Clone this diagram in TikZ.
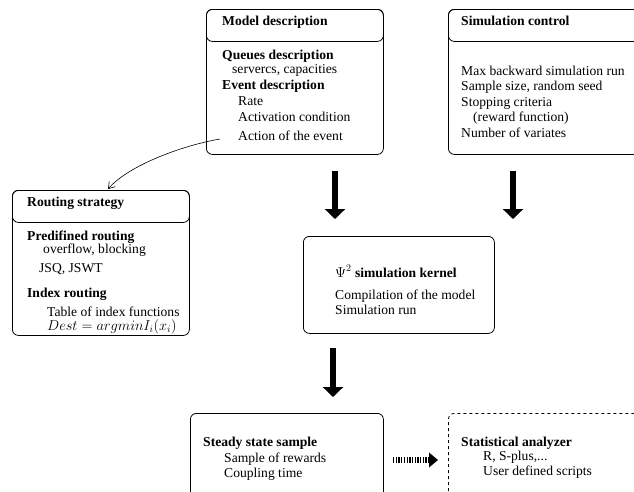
\documentclass[tikz,border=0pt]{standalone}
\usepackage{fontspec}
\setmainfont{Liberation Serif}
\usetikzlibrary{arrows.meta}
\begin{document}
\begin{tikzpicture}[x=1pt,y=-1pt,
  box/.style={draw, line width=0.8pt, rounded corners=6pt, inner sep=0pt, anchor=north west},
  txt/.style={anchor=base west, inner sep=0pt, font=\fontsize{13.6}{16}\selectfont},
  btxt/.style={anchor=base west, inner sep=0pt, font=\fontsize{13.6}{16}\selectfont\bfseries},
  bigarrow/.style={line width=6pt, -{Triangle[length=10pt,width=20pt]}},
  ]
\useasboundingbox (0,0) rectangle (634,491);
\clip (0,0) rectangle (634,491);

% Model description
\node[box, minimum width=177pt, minimum height=145pt] (model) at (206,9) {};
\node[box, minimum width=177pt, minimum height=32pt] (modelhead) at (206,9) {};
\node[btxt] (t1) at (222,25) {Model description};
\node[btxt] (t2) at (222,59) {Queues description};
\node[txt]  (t3) at (232,73) {servercs, capacities};
\node[btxt] (t4) at (222,89) {Event description};
\node[txt]  (t5) at (238,105) {Rate};
\node[txt]  (t6) at (238,121) {Activation condition};
\node[txt]  (t7) at (238,140) {Action of the event};

% Simulation control
\node[box, minimum width=210pt, minimum height=145pt] (sim) at (448,9) {};
\node[box, minimum width=210pt, minimum height=32pt] (simhead) at (448,9) {};
\node[btxt] (s1) at (461,25) {Simulation control};
\node[txt]  (s2) at (461,75) {Max backward simulation run};
\node[txt]  (s3) at (461,90.5) {Sample size, random seed};
\node[txt]  (s4) at (461,106) {Stopping criteria};
\node[txt]  (s5) at (473,121) {(reward function)};
\node[txt]  (s6) at (461,137) {Number of variates};

% Routing strategy
\node[box, minimum width=177pt, minimum height=145pt] (route) at (12,190) {};
\node[box, minimum width=177pt, minimum height=32pt] (routehead) at (12,190) {};
\node[btxt] (r1) at (27,206) {Routing strategy};
\node[btxt] (r2) at (27,240) {Predifined routing};
\node[txt]  (r3) at (43,253) {overflow, blocking};
\node[txt]  (r4) at (39,272) {JSQ, JSWT};
\node[btxt] (r5) at (27,297) {Index routing};
\node[txt]  (r6) at (47,316) {Table of index functions};
\node[txt]  (r7) at (47,330) {$Dest = argmin I_i(x_i)$};

% Kernel
\node[box, minimum width=191pt, minimum height=97pt] (kernel) at (303,236) {};
\node[txt] (k1) at (335,277) {$\Psi^2$ \textbf{simulation kernel}};
\node[txt] (k2) at (335,299) {Compilation of the model};
\node[txt] (k3) at (335,314) {Simulation run};

% Steady state sample
\node[box, minimum width=193pt, minimum height=100pt] (steady) at (190,413) {};
\node[btxt] (st1) at (203,446) {Steady state sample};
\node[txt]  (st2) at (224,462) {Sample of rewards};
\node[txt]  (st3) at (224,477) {Coupling time};

% Statistical analyzer
\node[box, dashed, minimum width=210pt, minimum height=100pt] (stat) at (448,413) {};
\node[btxt] (sa1) at (461,446) {Statistical analyzer};
\node[txt]  (sa2) at (483,460) {R, S-plus,...};
\node[txt]  (sa3) at (483,475) {User defined scripts};

% Thick arrows
\coordinate (a1s) at (335,171); \coordinate (a1e) at (335,219);
\coordinate (a2s) at (513,171); \coordinate (a2e) at (513,219);
\coordinate (a3s) at (333,348); \coordinate (a3e) at (333,397);
\draw[bigarrow] (a1s) -- (a1e);
\draw[bigarrow] (a2s) -- (a2e);
\draw[bigarrow] (a3s) -- (a3e);

% Striped arrow
\coordinate (d1) at (393,460); \coordinate (d2) at (429,460); \coordinate (d3) at (438,460);
\draw[line width=6pt, dash pattern=on 1.3pt off 1.4pt] (d1) -- (d2);
\fill ([yshift=7.5pt]d2) -- (d3) -- ([yshift=-7.5pt]d2) -- cycle;

% Curved arrow from model to routing
\coordinate (c1) at (220,139);
\coordinate (c2) at (108,189);
\draw[line width=0.6pt, -{Straight Barb[length=6pt,width=8pt]}] (c1) .. controls (180,146) and (128,166) .. (c2);
\end{tikzpicture}
\end{document}
